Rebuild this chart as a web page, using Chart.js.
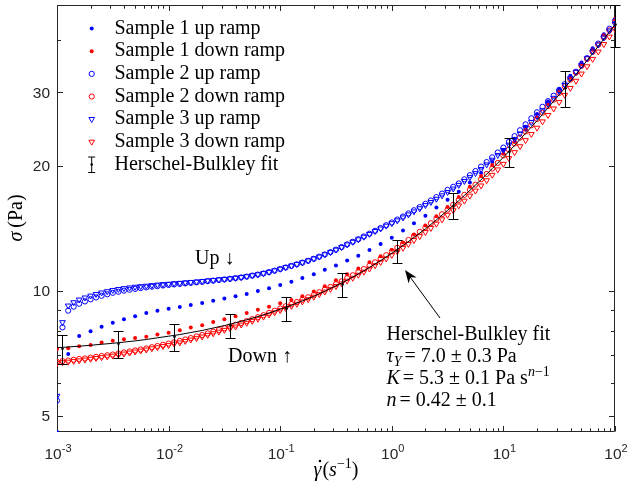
<!DOCTYPE html>
<html><head><meta charset="utf-8">
<script src="https://cdn.jsdelivr.net/npm/chart.js@4/dist/chart.umd.min.js"></script>
<style>html,body{margin:0;padding:0;background:#fff}#wrap{width:628px;height:490px;position:relative}</style>
</head><body><div id="wrap"><canvas id="c" width="628" height="490"></canvas></div>
<script>
// ---------- DATA ----------
const rates20 = [
 0.001,0.00112,0.00126,0.00141,0.00158,0.00178,0.002,0.00224,0.00251,0.00282,0.00316,0.00355,0.00398,0.00447,0.00501,0.00562,0.00631,0.00708,0.00794,0.00891,
 0.01,0.0112,0.0126,0.0141,0.0158,0.0178,0.02,0.0224,0.0251,0.0282,0.0316,0.0355,0.0398,0.0447,0.0501,0.0562,0.0631,0.0708,0.0794,0.0891,
 0.1,0.112,0.126,0.141,0.158,0.178,0.2,0.224,0.251,0.282,0.316,0.355,0.398,0.447,0.501,0.562,0.631,0.708,0.794,0.891,
 1,1.12,1.26,1.41,1.58,1.78,2,2.24,2.51,2.82,3.16,3.55,3.98,4.47,5.01,5.62,6.31,7.08,7.94,8.91,
 10,11.2,12.6,14.1,15.8,17.8,20,22.4,25.1,28.2,31.6,35.5,39.8,44.7,50.1,56.2,63.1,70.8,79.4,89.1,
 100];
const rates10 = [
 0.001,0.00126,0.00158,0.002,0.00251,0.00316,0.00398,0.00501,0.00631,0.00794,
 0.01,0.0126,0.0158,0.02,0.0251,0.0316,0.0398,0.0501,0.0631,0.0794,
 0.1,0.126,0.158,0.2,0.251,0.316,0.398,0.501,0.631,0.794,
 1,1.26,1.58,2,2.51,3.16,3.98,5.01,6.31,7.94,
 10,12.6,15.8,20,25.1,31.6,39.8,50.1,63.1,79.4,
 100];

const sample1Up = [4.57,7.04,7.78,7.99,8.19,8.37,8.54,8.68,8.83,8.95, 9.04,9.13,9.24,9.34,9.45,9.58,9.69,9.82,9.98,10.13,
 10.32,10.51,10.73,10.95,11.22,11.49,11.81,12.14,12.53,12.95, 13.40,13.95,14.53,15.15,15.85,16.55,17.30,18.20,19.20,20.40,
 21.75,23.20,24.80,26.60,28.50,30.60,32.90,35.40,38.30,41.40, 44.90];
const sample1Down = [7.24,7.27,7.35,7.40,7.50,7.58,7.64,7.69,7.75,7.84, 7.92,8.03,8.15,8.26,8.40,8.54,8.68,8.84,9.00,9.15,
 9.32,9.50,9.70,9.95,10.25,10.60,10.95,11.30,11.70,12.10, 12.55,13.05,13.65,14.35,15.10,15.90,16.80,17.78,18.86,20.05,
 21.36,22.80,24.40,26.14,28.08,30.20,32.54,35.12,37.96,41.30, 45.10];
const sample2Up = [5.44,8.16,8.95,9.15,9.30,9.42,9.53,9.63,9.72,9.80, 9.88,9.94,10.00,10.05,10.10,10.14,10.18,10.22,10.25,10.29,
 10.32,10.35,10.38,10.41,10.44,10.47,10.50,10.54,10.57,10.61, 10.64,10.68,10.72,10.76,10.81,10.87,10.93,11.00,11.08,11.17,
 11.27,11.37,11.47,11.57,11.68,11.80,11.93,12.07,12.22,12.38, 12.55,12.73,12.92,13.11,13.30,13.50,13.71,13.93,14.15,14.37,
 14.59,14.83,15.08,15.34,15.61,15.89,16.18,16.48,16.79,17.12, 17.47,17.78,18.11,18.53,18.96,19.40,19.88,20.39,20.93,21.50,
 22.09,22.80,23.54,24.32,25.13,25.99,26.86,27.70,28.57,29.45, 30.38,31.40,32.48,33.64,34.88,36.26,37.74,39.30,40.93,42.69,
 44.63];
const sample2Down = [6.74,6.77,6.79,6.82,6.85,6.87,6.90,6.93,6.96,6.99, 7.02,7.06,7.10,7.14,7.18,7.22,7.26,7.31,7.36,7.41,
 7.46,7.51,7.57,7.63,7.69,7.76,7.82,7.89,7.97,8.04, 8.12,8.20,8.28,8.36,8.45,8.54,8.63,8.73,8.84,8.95,
 9.06,9.17,9.28,9.39,9.51,9.64,9.77,9.91,10.06,10.21, 10.37,10.53,10.71,10.89,11.08,11.27,11.48,11.70,11.93,12.17,
 12.42,12.68,12.95,13.24,13.54,13.85,14.18,14.53,14.89,15.27, 15.67,16.09,16.53,17.00,17.48,17.99,18.53,19.09,19.67,20.29,
 21.15,21.85,22.60,23.35,24.15,25.00,25.90,26.80,27.80,28.80, 29.90,31.00,32.20,33.45,34.75,36.10,37.55,39.05,40.65,42.30,
 44.20];
const sample3Up = [5.58,8.39,9.20,9.37,9.51,9.62,9.72,9.81,9.89,9.96, 10.03,10.08,10.13,10.17,10.21,10.24,10.27,10.30,10.33,10.36,
 10.38,10.41,10.43,10.46,10.48,10.51,10.54,10.57,10.60,10.63, 10.66,10.69,10.73,10.77,10.82,10.88,10.94,11.01,11.09,11.18,
 11.28,11.38,11.48,11.58,11.69,11.81,11.94,12.07,12.22,12.37, 12.54,12.72,12.91,13.10,13.28,13.47,13.68,13.90,14.10,14.32,
 14.52,14.75,14.99,15.24,15.50,15.77,16.05,16.33,16.62,16.94, 17.26,17.59,17.95,18.34,18.74,19.16,19.60,20.11,20.64,21.19,
 21.78,22.44,23.14,23.87,24.63,25.43,26.27,27.15,28.08,29.08, 30.13,31.23,32.38,33.59,34.86,36.20,37.59,39.06,40.61,42.21,
 43.89];
const sample3Down = [6.69,6.72,6.74,6.77,6.79,6.82,6.85,6.88,6.91,6.94, 6.97,7.01,7.05,7.09,7.13,7.17,7.21,7.26,7.30,7.35,
 7.39,7.45,7.50,7.56,7.62,7.68,7.75,7.82,7.89,7.96, 8.04,8.11,8.19,8.28,8.36,8.45,8.55,8.65,8.75,8.86,
 8.97,9.07,9.18,9.29,9.41,9.53,9.66,9.80,9.94,10.09, 10.25,10.40,10.56,10.73,10.91,11.10,11.29,11.50,11.71,11.94,
 12.18,12.42,12.67,12.94,13.22,13.51,13.82,14.14,14.48,14.83, 15.21,15.60,16.02,16.45,16.91,17.39,17.89,18.42,18.98,19.56,
 20.17,20.82,21.52,22.24,23.00,23.80,24.64,25.52,26.44,27.41, 28.42,29.55,30.72,31.96,33.26,34.63,36.07,37.57,39.16,40.83,
 42.58];
const fitStress = [7.29,7.32,7.35,7.39,7.43,7.47,7.52,7.57,7.63,7.70, 7.77,7.84,7.93,8.02,8.13,8.24,8.37,8.51,8.66,8.83,
 9.02,9.22,9.45,9.69,9.97,10.27,10.60,10.97,11.37,11.81, 12.30,12.84,13.43,14.08,14.80,15.60,16.47,17.43,18.49,19.66,
 20.94,22.36,23.92,25.63,27.53,29.61,31.90,34.43,37.22,40.29, 43.67];

const errRates  = [0.00112,0.00355,0.0112,0.0355,0.112,0.355,1.12,3.55,11.2,35.5,100];
const errCenter = [7.25,7.45,7.75,8.25,9.05,10.35,12.45,16.0,21.6,30.7,43.67];
const errHalf   = [0.58,0.56,0.58,0.55,0.6,0.67,0.82,1.15,1.75,3.0,5.0];

const seriesNames = ['Sample 1 up ramp','Sample 1 down ramp','Sample 2 up ramp','Sample 2 down ramp','Sample 3 up ramp','Sample 3 down ramp','Herschel-Bulkley fit'];
const xTickValues = [0.001,0.01,0.1,1,10,100];
const xTickExps   = ['-3','-2','-1','0','1','2'];
const yTickValues = [5,10,20,30];
const yTickLabels = ['5','10','20','30'];
const yMinorValues = [6,7,8,9,40];

// ---------- STYLE ----------
const SERIF = '"Liberation Serif","Times New Roman",serif';
const SANS = '"Liberation Sans",Arial,Helvetica,sans-serif';
const BLUE = '#0000ff', RED = '#ff0000', AX = '#262626';
const R_DOT=2.0, R_RING=2.6, R_TRI=3.3, LW=1;

function pts(xs, ys){ return xs.map((x,i)=>({x:x, y:ys[i]})); }
function mk(label, xs, ys, color, kind, order){
  const base = {label, data: pts(xs,ys), showLine:false, order, pointHoverRadius:0};
  if (kind==='dot') return Object.assign(base,{pointStyle:'circle',pointRadius:R_DOT,pointBackgroundColor:color,pointBorderColor:color,pointBorderWidth:0});
  if (kind==='ring') return Object.assign(base,{pointStyle:'circle',pointRadius:R_RING,pointBackgroundColor:'rgba(0,0,0,0)',pointBorderColor:color,pointBorderWidth:LW});
  return Object.assign(base,{pointStyle:'triangle',pointRotation:180,pointRadius:R_TRI,pointBackgroundColor:'rgba(0,0,0,0)',pointBorderColor:color,pointBorderWidth:LW});
}

function drawMarker(ctx, kind, color, x, y){
  ctx.save();
  ctx.strokeStyle=color; ctx.fillStyle=color; ctx.lineWidth=LW;
  if(kind==='dot'){ ctx.beginPath(); ctx.arc(x,y,R_DOT,0,Math.PI*2); ctx.fill(); }
  else if(kind==='ring'){ ctx.beginPath(); ctx.arc(x,y,R_RING,0,Math.PI*2); ctx.stroke(); }
  else { const r=R_TRI; ctx.beginPath();
    for(let k=0;k<3;k++){ const a=Math.PI+k*2*Math.PI/3; const px=x+Math.sin(a)*r, py=y-Math.cos(a)*r; k?ctx.lineTo(px,py):ctx.moveTo(px,py);} ctx.closePath(); ctx.stroke(); }
  ctx.restore();
}

function rich(ctx, x, y, parts, size, measureOnly){
  let cx = x;
  for(const p of parts){
    const sz = p.sz || size;
    ctx.font = (p.it?'italic ':'') + sz + 'px ' + (p.sans?SANS:SERIF);
    if(!measureOnly) ctx.fillText(p.t, cx, y + (p.dy||0));
    cx += ctx.measureText(p.t).width + (p.sp||0);
  }
  return cx - x;
}

const decorPlugin = {
  id:'decor',
  beforeDatasetsDraw(chart){
    const ctx=chart.ctx, a=chart.chartArea, xs=chart.scales.x, ys=chart.scales.y;
    ctx.save();
    ctx.strokeStyle=AX; ctx.lineWidth=1;
    const L=Math.round(a.left)+0.5, R=Math.round(a.right)-0.5, T=Math.round(a.top)+0.5, B=Math.round(a.bottom)-0.5;
    ctx.beginPath(); ctx.rect(L,T,R-L,B-T); ctx.stroke();
    ctx.beginPath();
    for(const d of xTickValues){
      const p=Math.round(xs.getPixelForValue(d))+0.5;
      ctx.moveTo(p,B); ctx.lineTo(p,B-5.5); ctx.moveTo(p,T); ctx.lineTo(p,T+5.5);
      if(d<100){ for(let m=2;m<=9;m++){ const q=Math.round(xs.getPixelForValue(d*m))+0.5;
        ctx.moveTo(q,B); ctx.lineTo(q,B-3.2); ctx.moveTo(q,T); ctx.lineTo(q,T+3.2);} }
    }
    for(const v of yTickValues){
      const p=Math.round(ys.getPixelForValue(v))+0.5;
      ctx.moveTo(L,p); ctx.lineTo(L+5.5,p); ctx.moveTo(R,p); ctx.lineTo(R-5.5,p);
    }
    for(const v of yMinorValues){
      const p=Math.round(ys.getPixelForValue(v))+0.5;
      ctx.moveTo(L,p); ctx.lineTo(L+3.5,p); ctx.moveTo(R,p); ctx.lineTo(R-3.5,p);
    }
    ctx.stroke();
    ctx.fillStyle=AX; ctx.textBaseline='alphabetic';
    ctx.textAlign='right'; ctx.font='15.5px '+SANS;
    yTickValues.forEach((v,i)=>{ ctx.fillText(yTickLabels[i], a.left-7, ys.getPixelForValue(v)+5.5); });
    ctx.textAlign='left';
    xTickValues.forEach((v,i)=>{
      const parts=[{t:'10',sans:true},{t:xTickExps[i],sans:true,sz:11,dy:-7.5}];
      const w=rich(ctx,0,0,parts,15.5,true);
      rich(ctx, xs.getPixelForValue(v)-w/2+1, 459, parts, 15.5);
    });
    ctx.restore();
  },
  afterDatasetsDraw(chart){
    const ctx=chart.ctx, a=chart.chartArea, xs=chart.scales.x, ys=chart.scales.y;
    ctx.save();
    ctx.beginPath(); ctx.rect(a.left,a.top-1,a.right-a.left+6,a.bottom-a.top+1); ctx.clip();
    ctx.strokeStyle='#000'; ctx.fillStyle='#000'; ctx.lineWidth=1;
    errRates.forEach((r,i)=>{
      const x=Math.round(xs.getPixelForValue(r))+0.5;
      const y1=Math.round(ys.getPixelForValue(errCenter[i]+errHalf[i]))+0.5;
      const y0=Math.round(ys.getPixelForValue(errCenter[i]-errHalf[i]))+0.5;
      ctx.beginPath(); ctx.moveTo(x,y0); ctx.lineTo(x,y1);
      ctx.moveTo(x-5,y0); ctx.lineTo(x+5,y0); ctx.moveTo(x-5,y1); ctx.lineTo(x+5,y1); ctx.stroke();
      ctx.beginPath(); ctx.arc(x, ys.getPixelForValue(errCenter[i]), 1.3, 0, Math.PI*2); ctx.fill();
    });
    ctx.restore();
  },
  afterDraw(chart){
    const ctx=chart.ctx;
    ctx.save();
    ctx.fillStyle='#000'; ctx.textAlign='left'; ctx.textBaseline='alphabetic';
    const kinds=[['dot',BLUE],['dot',RED],['ring',BLUE],['ring',RED],['tri',BLUE],['tri',RED]];
    for(let i=0;i<7;i++){
      const base=33.5+i*22.67, mx=91.7, my=base-5;
      if(i<6) drawMarker(ctx,kinds[i][0],kinds[i][1],mx,my);
      else { ctx.strokeStyle='#000'; ctx.lineWidth=1; ctx.beginPath();
        ctx.moveTo(mx,my-7.5); ctx.lineTo(mx,my+8); ctx.moveTo(mx-3.5,my-7.5); ctx.lineTo(mx+3.5,my-7.5);
        ctx.moveTo(mx-3.5,my+8); ctx.lineTo(mx+3.5,my+8); ctx.stroke();
        ctx.beginPath(); ctx.arc(mx,my,1.3,0,Math.PI*2); ctx.fill(); }
      ctx.fillStyle='#000'; ctx.font='20px '+SERIF;
      ctx.fillText(seriesNames[i],114.5,base);
    }
    ctx.font='20px '+SERIF;
    ctx.fillText('Up \u2193',195,263.5);
    ctx.fillText('Down \u2191',228,361.5);
    const x0=440,y0=318,x1=405,y1=270;
    ctx.strokeStyle='#000'; ctx.lineWidth=1;
    const ang=Math.atan2(y1-y0,x1-x0);
    ctx.beginPath(); ctx.moveTo(x0,y0); ctx.lineTo(x1-Math.cos(ang)*8,y1-Math.sin(ang)*8); ctx.stroke();
    const hl=13, hw=5;
    ctx.beginPath(); ctx.moveTo(x1,y1);
    ctx.lineTo(x1-Math.cos(ang)*hl+Math.sin(ang)*hw, y1-Math.sin(ang)*hl-Math.cos(ang)*hw);
    ctx.lineTo(x1-Math.cos(ang)*9, y1-Math.sin(ang)*9);
    ctx.lineTo(x1-Math.cos(ang)*hl-Math.sin(ang)*hw, y1-Math.sin(ang)*hl+Math.cos(ang)*hw);
    ctx.closePath(); ctx.fill();
    const ax=386.5, S=20;
    rich(ctx,ax,340,[{t:'Herschel-Bulkley fit'}],S);
    rich(ctx,ax,362,[{t:'\u03C4',it:true},{t:'Y',it:true,sz:14,dy:4,sp:3},{t:'= 7.0 \u00B1 0.3 Pa'}],S);
    rich(ctx,ax,384,[{t:'K',it:true,sp:3},{t:'= 5.3 \u00B1 0.1 Pa s'},{t:'n',it:true,sz:14,dy:-8},{t:'\u22121',sz:14,dy:-8}],S);
    rich(ctx,ax,406,[{t:'n',it:true,sp:3},{t:'= 0.42 \u00B1 0.1'}],S);
    const yParts=[{t:'\u03C3',it:true,sp:4},{t:'(Pa)'}];
    const yw=rich(ctx,0,0,yParts,S,true);
    ctx.save(); ctx.translate(22,218); ctx.rotate(-Math.PI/2);
    rich(ctx,-yw/2,0,yParts,S); ctx.restore();
    const xParts=[{t:'\u03B3',it:true,sp:1},{t:'('},{t:'s',it:true},{t:'\u22121',sz:14,dy:-8},{t:')'}];
    const xw=rich(ctx,0,0,xParts,S,true);
    const xl=336-xw/2;
    rich(ctx,xl,476,xParts,S);
    ctx.beginPath(); ctx.arc(xl+6.4,461,1.3,0,Math.PI*2); ctx.fill();
    ctx.restore();
  }
};

const datasets=[
  mk(seriesNames[0],rates10,sample1Up,BLUE,'dot',0),
  mk(seriesNames[1],rates10,sample1Down,RED,'dot',-1),
  mk(seriesNames[2],rates20,sample2Up,BLUE,'ring',-2),
  mk(seriesNames[3],rates20,sample2Down,RED,'ring',-3),
  mk(seriesNames[4],rates20,sample3Up,BLUE,'tri',-4),
  mk(seriesNames[5],rates20,sample3Down,RED,'tri',-5),
  {label:'fit', data:pts(rates10,fitStress), showLine:true, borderColor:'#000', borderWidth:1, pointRadius:0, pointHoverRadius:0, order:-6, tension:0, fill:false}
];

new Chart(document.getElementById('c'),{
  type:'scatter',
  data:{datasets},
  options:{
    responsive:false, animation:false, devicePixelRatio:1,
    layout:{padding:{left:57,right:13,top:5,bottom:58}},
    plugins:{legend:{display:false},tooltip:{enabled:false}},
    events:[],
    scales:{
      x:{type:'logarithmic',min:0.001,max:100,display:false},
      y:{type:'logarithmic',min:4.57,max:48.67,display:false}
    }
  },
  plugins:[decorPlugin]
});
</script></body></html>
